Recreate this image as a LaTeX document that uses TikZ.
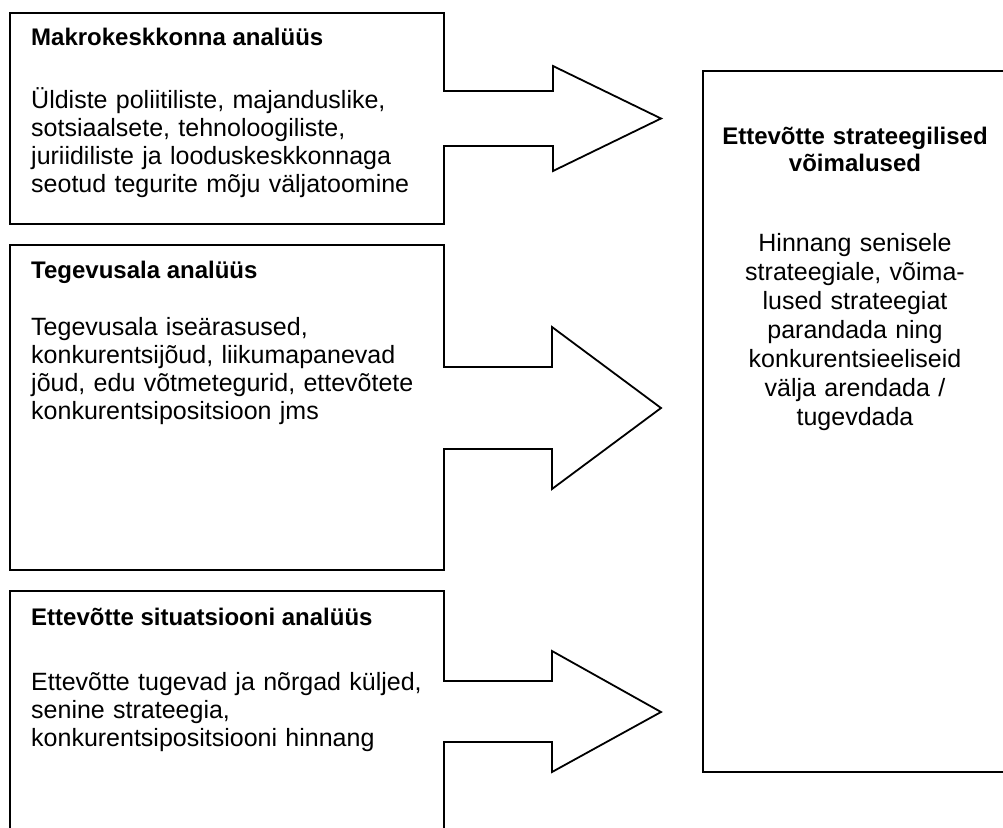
\documentclass[tikz,border=0pt]{standalone}
\usepackage{fontspec}
\setmainfont{Liberation Sans}
\begin{document}
\begin{tikzpicture}[x=1pt,y=-1pt,
  outline/.style={draw=black,line width=1.8pt,line join=miter},
  head/.style={font=\fontsize{24}{27}\selectfont\bfseries,anchor=base west,inner sep=0pt},
  body/.style={font=\fontsize{25}{28}\selectfont,anchor=base west,inner sep=0pt,
    text width=430pt,align=left},
  rbody/.style={font=\fontsize{25}{29}\selectfont,anchor=base,inner sep=0pt,
    text width=290pt,align=center},
  rhead/.style={font=\fontsize{24}{27}\selectfont\bfseries,anchor=base,inner sep=0pt,
    text width=290pt,align=center}]
\useasboundingbox (0,0) rectangle (1003,827);

% macro environment box with its arrow
\draw[outline] (10,13) -- (444,13) -- (444,91) -- (553,91) -- (553,66)
  -- (661,118.5) -- (553,171) -- (553,146) -- (444,146) -- (444,224)
  -- (10,224) -- cycle;
% industry box with its arrow
\draw[outline] (10,245) -- (444,245) -- (444,367) -- (552,367) -- (552,327)
  -- (661,408) -- (552,489) -- (552,449) -- (444,449) -- (444,570)
  -- (10,570) -- cycle;
% company box with its arrow (continues below the page)
\draw[outline] (10,840) -- (10,591) -- (444,591) -- (444,681) -- (552,681)
  -- (552,651) -- (661,712) -- (552,772) -- (552,742) -- (444,742) -- (444,840);
% result box
\draw[outline] (703,71) rectangle (1008,772);

\node[head] (h1) at (31,45) {Makrokeskkonna analüüs};
\node[body] (b1) at (31,108) {Üldiste poliitiliste, majanduslike,\\
  sotsiaalsete, tehnoloogiliste,\\
  juriidiliste ja looduskeskkonnaga\\
  seotud tegurite mõju väljatoomine};

\node[head] (h2) at (31,278) {Tegevusala analüüs};
\node[body] (b2) at (31,335) {Tegevusala iseärasused,\\
  konkurentsijõud, liikumapanevad\\
  jõud, edu võtmetegurid, ettevõtete\\
  konkurentsipositsioon jms};

\node[head] (h3) at (31,625) {Ettevõtte situatsiooni analüüs};
\node[body] (b3) at (31,690) {Ettevõtte tugevad ja nõrgad küljed,\\
  senine strateegia,\\
  konkurentsipositsiooni hinnang};

\node[rhead] (rh) at (855,144) {Ettevõtte strateegilised\\võimalused};
\node[rbody] (rb) at (855,251) {Hinnang senisele\\
  strateegiale, võima-\\
  lused strateegiat\\
  parandada ning\\
  konkurentsieeliseid\\
  välja arendada /\\
  tugevdada};
\end{tikzpicture}
\end{document}
